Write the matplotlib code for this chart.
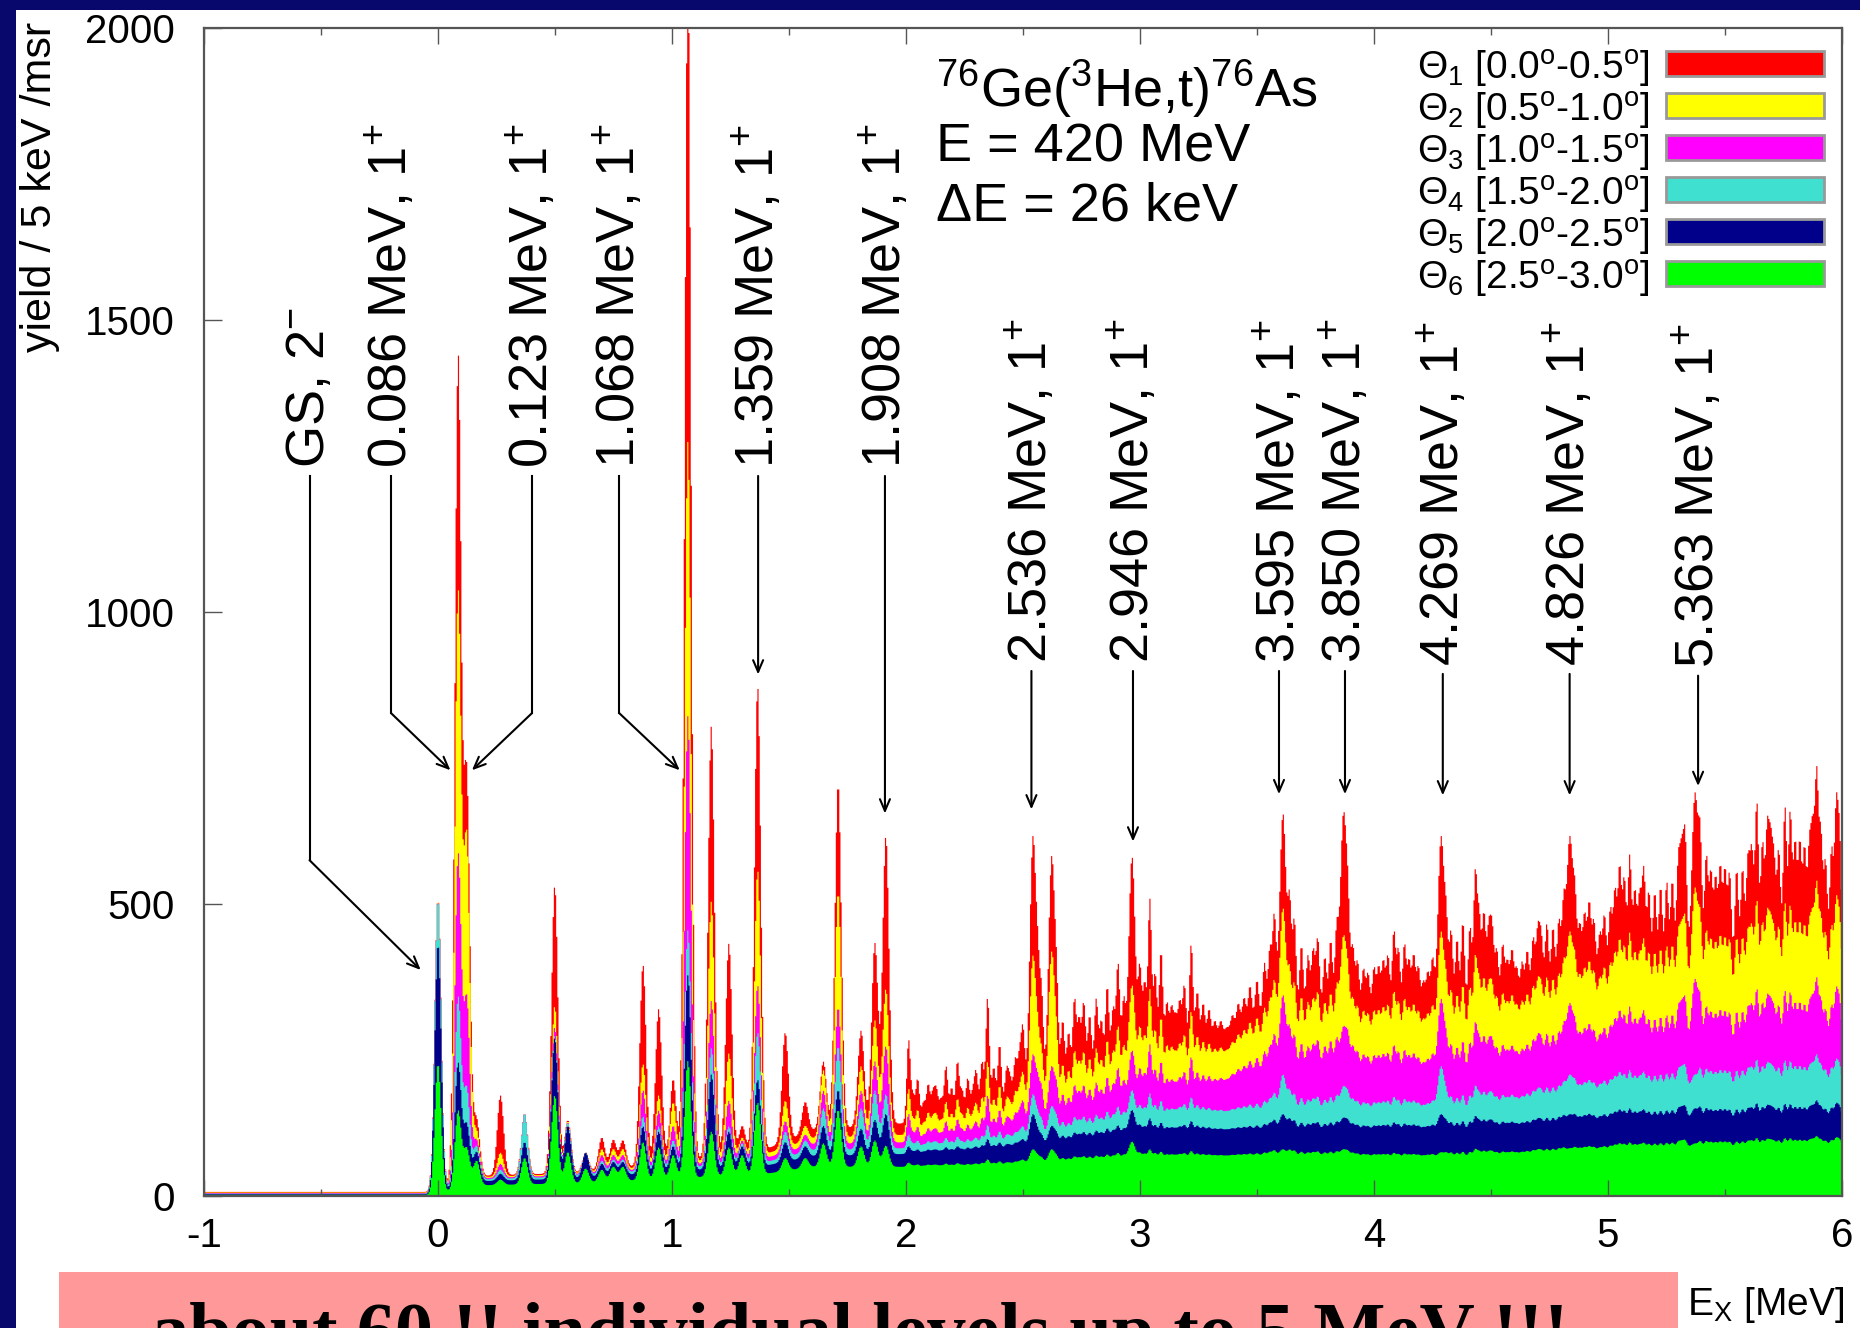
import numpy as np
import matplotlib.pyplot as plt
from matplotlib.patches import Rectangle
from matplotlib.ticker import MultipleLocator

plt.rcParams['font.family'] = ['Liberation Sans', 'DejaVu Sans']
plt.rcParams['mathtext.fontset'] = 'custom'
plt.rcParams['mathtext.rm'] = 'Liberation Sans'
plt.rcParams['mathtext.it'] = 'Liberation Sans:italic'
plt.rcParams['mathtext.bf'] = 'Liberation Sans:bold'
plt.rcParams['axes.unicode_minus'] = False

# resolved levels: Ex (MeV) and the top of each stacked layer
# (red = sum of all angles, yellow = Θ2..Θ6, ..., green = Θ6 alone)
lvl_ex = [0.000, 0.086, 0.123, 0.165, 0.267, 0.370, 0.499, 0.555, 0.631, 0.700,
          0.749, 0.790, 0.876, 0.943, 1.005, 1.068, 1.168, 1.243, 1.300, 1.366,
          1.484, 1.569, 1.647, 1.710, 1.808, 1.867, 1.914, 2.543, 2.623, 2.966,
          3.611, 3.870, 4.287, 4.837, 5.372]
lvl_red = [510, 1425, 705, 130, 172, 141, 531, 130, 74, 100,
           96, 95, 396, 320, 200, 2100, 804, 432, 120, 873,
           280, 161, 230, 706, 283, 432, 615, 615, 581, 581,
           655, 655, 615, 615, 689]
lvl_yellow = [510, 1024, 600, 110, 74, 141, 325, 128, 74, 80,
              80, 80, 226, 172, 160, 1292, 504, 244, 100, 558,
              163, 120, 215, 520, 222, 300, 354, 411, 418, 361,
              493, 445, 452, 452, 527]
lvl_magenta = [509, 580, 330, 95, 55, 141, 289, 126, 74, 70,
               70, 70, 181, 146, 120, 822, 334, 163, 95, 361,
               128, 105, 180, 323, 180, 230, 256, 242, 222, 249,
               344, 290, 337, 330, 371]
lvl_cyan = [508, 338, 180, 85, 45, 141, 275, 125, 74, 60,
            62, 62, 136, 119, 95, 455, 253, 119, 90, 280,
            110, 95, 150, 256, 150, 180, 174, 174, 154, 181,
            208, 188, 222, 208, 208]
lvl_navy = [432, 226, 120, 75, 38, 92, 271, 120, 74, 55,
            58, 58, 119, 110, 85, 378, 208, 110, 85, 199,
            92, 85, 120, 181, 115, 130, 140, 140, 120, 147,
            140, 134, 140, 140, 150]
lvl_green = [226, 145, 80, 60, 28, 65, 172, 75, 47, 45,
             50, 50, 92, 83, 70, 231, 110, 83, 70, 160,
             65, 65, 90, 147, 85, 95, 86, 80, 80, 93,
             80, 80, 75, 82, 90]

# unresolved structure above 2 MeV: summed height only
forest_ex = [2.011, 2.03, 2.05, 2.075, 2.095, 2.115, 2.13, 2.15, 2.171, 2.195,
             2.22, 2.24, 2.264, 2.285, 2.30, 2.325, 2.349, 2.375, 2.40, 2.43,
             2.445, 2.467, 2.485, 2.50, 2.565, 2.58, 2.645, 2.67, 2.695, 2.720,
             2.74, 2.76, 2.785, 2.813, 2.835, 2.86, 2.885, 2.906, 2.93, 3.00,
             3.02, 3.042, 3.065, 3.09, 3.115, 3.135, 3.152, 3.17, 3.19, 3.219,
             3.245, 3.27, 3.295, 3.32, 3.345, 3.371, 3.395, 3.42, 3.445, 3.47,
             3.50, 3.532, 3.555, 3.574, 3.64, 3.66, 3.69, 3.718, 3.74, 3.76,
             3.79, 3.815, 3.84, 3.89, 3.91, 3.93, 3.955, 3.975, 4.00, 4.02,
             4.04, 4.06, 4.085, 4.105, 4.13, 4.15, 4.17, 4.19, 4.211, 4.23,
             4.25, 4.31, 4.33, 4.355, 4.38, 4.41, 4.433, 4.45, 4.47, 4.49,
             4.505, 4.525, 4.55, 4.57, 4.59, 4.61, 4.633, 4.655, 4.68, 4.70,
             4.715, 4.739, 4.765, 4.79, 4.81, 4.86, 4.88, 4.90, 4.92, 4.94,
             4.965, 4.985, 5.01, 5.03, 5.05, 5.07, 5.093, 5.115, 5.135, 5.153,
             5.175, 5.20, 5.225, 5.251, 5.275, 5.30, 5.315, 5.33, 5.395, 5.42,
             5.44, 5.46, 5.48, 5.50, 5.52, 5.55, 5.575, 5.598, 5.615, 5.636,
             5.66, 5.68, 5.695, 5.71, 5.73, 5.756, 5.779, 5.80, 5.82, 5.84,
             5.86, 5.875, 5.892, 5.91, 5.93, 5.955, 5.975, 5.99]
forest_top = [266, 170, 200, 160, 190, 175, 180, 165, 222, 185,
              230, 180, 201, 175, 210, 230, 340, 220, 260, 215,
              200, 232, 235, 280, 300, 330, 290, 300, 280, 337,
              300, 330, 310, 337, 300, 360, 320, 398, 330, 380,
              360, 506, 380, 420, 330, 320, 303, 330, 360, 432,
              350, 330, 320, 300, 300, 289, 310, 330, 340, 360,
              370, 398, 420, 472, 480, 470, 430, 411, 420, 440,
              410, 438, 440, 420, 420, 400, 388, 380, 390, 390,
              400, 410, 452, 420, 430, 400, 410, 390, 364, 380,
              400, 420, 450, 440, 470, 460, 547, 470, 480, 450,
              452, 420, 430, 400, 420, 390, 400, 420, 440, 450,
              440, 466, 460, 470, 480, 470, 460, 480, 500, 470,
              449, 480, 490, 520, 560, 540, 581, 520, 510, 554,
              520, 520, 530, 537, 540, 560, 560, 600, 560, 580,
              550, 540, 560, 554, 550, 560, 560, 571, 580, 672,
              600, 610, 580, 560, 590, 665, 655, 600, 600, 590,
              580, 600, 706, 610, 570, 590, 648, 600]
# how the excess of a forest peak is shared by the stacked layers
forest_share = [1.0, 0.55, 0.34, 0.16, 0.09, 0.05]

# continuum under the levels, same six stacked layers
base_ex = [-1.0, -0.03, 0.15, 0.6, 1.0, 1.4, 1.6, 2.0, 2.3, 2.6, 2.9,
           3.2, 3.5, 3.8, 4.1, 4.4, 4.7, 5.0, 5.3, 5.6, 6.0]
base_red = [7, 7, 34, 40, 58, 80, 112, 125, 140, 180, 225,
            250, 305, 315, 300, 312, 342, 368, 385, 390, 395]
base_yellow = [6, 6, 32, 38, 54, 72, 98, 105, 118, 155, 195,
               215, 270, 280, 265, 275, 305, 330, 345, 350, 352]
base_magenta = [5, 5, 30, 36, 50, 65, 88, 92, 102, 130, 160,
                175, 215, 225, 205, 212, 235, 250, 258, 258, 258]
base_cyan = [4, 4, 28, 34, 47, 58, 78, 82, 88, 105, 125,
             140, 148, 150, 145, 148, 165, 180, 186, 188, 188]
base_navy = [3, 3, 25, 30, 42, 52, 68, 72, 78, 90, 105,
             112, 115, 115, 112, 114, 122, 130, 133, 133, 133]
base_green = [2, 2, 18, 22, 30, 38, 50, 50, 52, 58, 65,
              68, 70, 70, 66, 68, 74, 80, 84, 85, 86]

lvl_fwhm = 0.032     # MeV, line width of the resolved levels
forest_fwhm = 0.018  # MeV
bin_w = 0.005        # MeV

colors = ['#ff0000', '#ffff00', '#ff00ff', '#40e0d0', '#00008b', '#00ff00']
leg_text = ['Θ$_1$ [0.0$^{\\rm o}$-0.5$^{\\rm o}$]',
            'Θ$_2$ [0.5$^{\\rm o}$-1.0$^{\\rm o}$]',
            'Θ$_3$ [1.0$^{\\rm o}$-1.5$^{\\rm o}$]',
            'Θ$_4$ [1.5$^{\\rm o}$-2.0$^{\\rm o}$]',
            'Θ$_5$ [2.0$^{\\rm o}$-2.5$^{\\rm o}$]',
            'Θ$_6$ [2.5$^{\\rm o}$-3.0$^{\\rm o}$]']

lab_text = ['GS, 2$^{-}$', '0.086 MeV, 1$^{+}$', '0.123 MeV, 1$^{+}$',
            '1.068 MeV, 1$^{+}$', '1.359 MeV, 1$^{+}$', '1.908 MeV, 1$^{+}$',
            '2.536 MeV, 1$^{+}$', '2.946 MeV, 1$^{+}$', '3.595 MeV, 1$^{+}$',
            '3.850 MeV, 1$^{+}$', '4.269 MeV, 1$^{+}$', '4.826 MeV, 1$^{+}$',
            '5.363 MeV, 1$^{+}$']
# where each label and its leader line sit
lab_x = [-0.549, -0.201, 0.402, 0.774, 1.368, 1.910, 2.536, 2.970, 3.594,
         3.876, 4.294, 4.836, 5.385]
lab_y = [1246] * 6 + [912] * 4 + [907, 907, 904]
kink_y = [575, 827, 827, 827] + [None] * 9
tip = [(-0.074, 387), (0.053, 729), (0.145, 729), (1.033, 729), (1.368, 893),
       (1.910, 655), (2.536, 662), (2.970, 607), (3.594, 688), (3.876, 688),
       (4.294, 686), (4.836, 686), (5.385, 702)]

# build the stacked spectrum
edges = np.arange(-1.0, 6.0 + bin_w / 2, bin_w)
ex = 0.5 * (edges[1:] + edges[:-1])
sig_l = lvl_fwhm / 2.3548
sig_f = forest_fwhm / 2.3548

lvl_tops = [lvl_red, lvl_yellow, lvl_magenta, lvl_cyan, lvl_navy, lvl_green]
base_tops = [base_red, base_yellow, base_magenta, base_cyan, base_navy, base_green]

layers = []
for k in range(6):
    y = np.interp(ex, base_ex, base_tops[k])
    for e0, top in zip(lvl_ex, lvl_tops[k]):
        amp = max(top - np.interp(e0, base_ex, base_tops[k]), 0)
        y = y + amp * np.exp(-0.5 * ((ex - e0) / sig_l) ** 2)
    for e0, top in zip(forest_ex, forest_top):
        amp = max(top - np.interp(e0, base_ex, base_red), 0) * forest_share[k]
        y = y + amp * np.exp(-0.5 * ((ex - e0) / sig_f) ** 2)
    layers.append(y)
for k in range(4, -1, -1):
    layers[k] = np.maximum(layers[k], layers[k + 1])

fig = plt.figure(figsize=(18.6, 13.28), dpi=100, facecolor='#08086c')
fig.add_artist(Rectangle((16 / 1860, 0), 1, 1 - 10 / 1328, transform=fig.transFigure,
                         facecolor='white', edgecolor='none', zorder=-5))
fig.add_artist(Rectangle((59 / 1860, 0), (1678 - 59) / 1860, 56 / 1328,
                         transform=fig.transFigure, facecolor='#ff9999',
                         edgecolor='none', zorder=-4))

ax = fig.add_axes([204 / 1860, 132 / 1328, 1638 / 1860, 1168 / 1328])
ax.set_facecolor('white')

for y, c in zip(layers, colors):
    ax.stairs(y, edges, fill=True, color=c, linewidth=0)

ax.set_xlim(-1, 6)
ax.set_ylim(0, 2000)
ax.set_xticks(range(-1, 7))
ax.xaxis.set_minor_locator(MultipleLocator(0.5))
ax.set_yticks([0, 500, 1000, 1500, 2000])
ax.tick_params(axis='x', which='major', direction='in', length=11.5, width=1,
               color='#555555', top=True, labelsize=29, pad=15)
ax.tick_params(axis='x', which='minor', direction='in', length=5, width=1,
               color='#555555', top=True)
ax.tick_params(axis='y', direction='in', length=13, width=1, color='#555555',
               right=False, labelsize=29, pad=21)
for sp in ax.spines.values():
    sp.set_color('#555555')
    sp.set_linewidth(1.6)

# level labels with leader lines
arrow_kw = dict(arrowstyle='->,head_length=0.7,head_width=0.3', color='black',
                lw=1.5, shrinkA=0, shrinkB=0, mutation_scale=12)
for s, x, yb, yk, t in zip(lab_text, lab_x, lab_y, kink_y, tip):
    ax.text(x, yb, s, rotation=90, ha='center', va='bottom', fontsize=39)
    y_top = yb - 13
    if yk is None:
        ax.annotate('', xy=t, xytext=(x, y_top), arrowprops=arrow_kw)
    else:
        ax.plot([x, x], [y_top, yk], color='black', lw=1.5)
        ax.annotate('', xy=t, xytext=(x, yk), arrowprops=arrow_kw)

# reaction info
ax.text(0.447, 0.9324, '$^{76}$Ge($^{3}$He,t)$^{76}$As', transform=ax.transAxes,
        fontsize=39, ha='left', va='baseline')
ax.text(0.447, 0.8853, 'E = 420 MeV', transform=ax.transAxes,
        fontsize=39, ha='left', va='baseline')
ax.text(0.447, 0.8356, 'ΔE = 26 keV', transform=ax.transAxes,
        fontsize=39, ha='left', va='baseline')

# angle legend
for i, (s, c) in enumerate(zip(leg_text, colors)):
    yb = (1196 - (80 + 42 * i)) / 1168
    ax.text(0.8822, yb, s, transform=ax.transAxes, fontsize=28,
            ha='right', va='baseline')
    ax.add_patch(Rectangle((0.8926, yb + 0.0035), 0.0965, 0.0214,
                           transform=ax.transAxes, facecolor=c,
                           edgecolor='#999999', lw=2, zorder=5))

fig.text(40 / 1860, 1 - 22 / 1328, 'yield / 5 keV /msr', rotation=90,
         ha='center', va='top', fontsize=31)
fig.text(1687 / 1860, 1 - 1285 / 1328, 'E$_{\\rm X}$ [MeV]', ha='left',
         va='top', fontsize=28)
fig.text(860 / 1860, 1 - 1302 / 1328, 'about 60 !! individual levels up to 5 MeV !!!',
         ha='center', va='top', fontsize=55, family='Liberation Serif',
         weight='bold')

fig.savefig('out.png', dpi=100, facecolor=fig.get_facecolor())
